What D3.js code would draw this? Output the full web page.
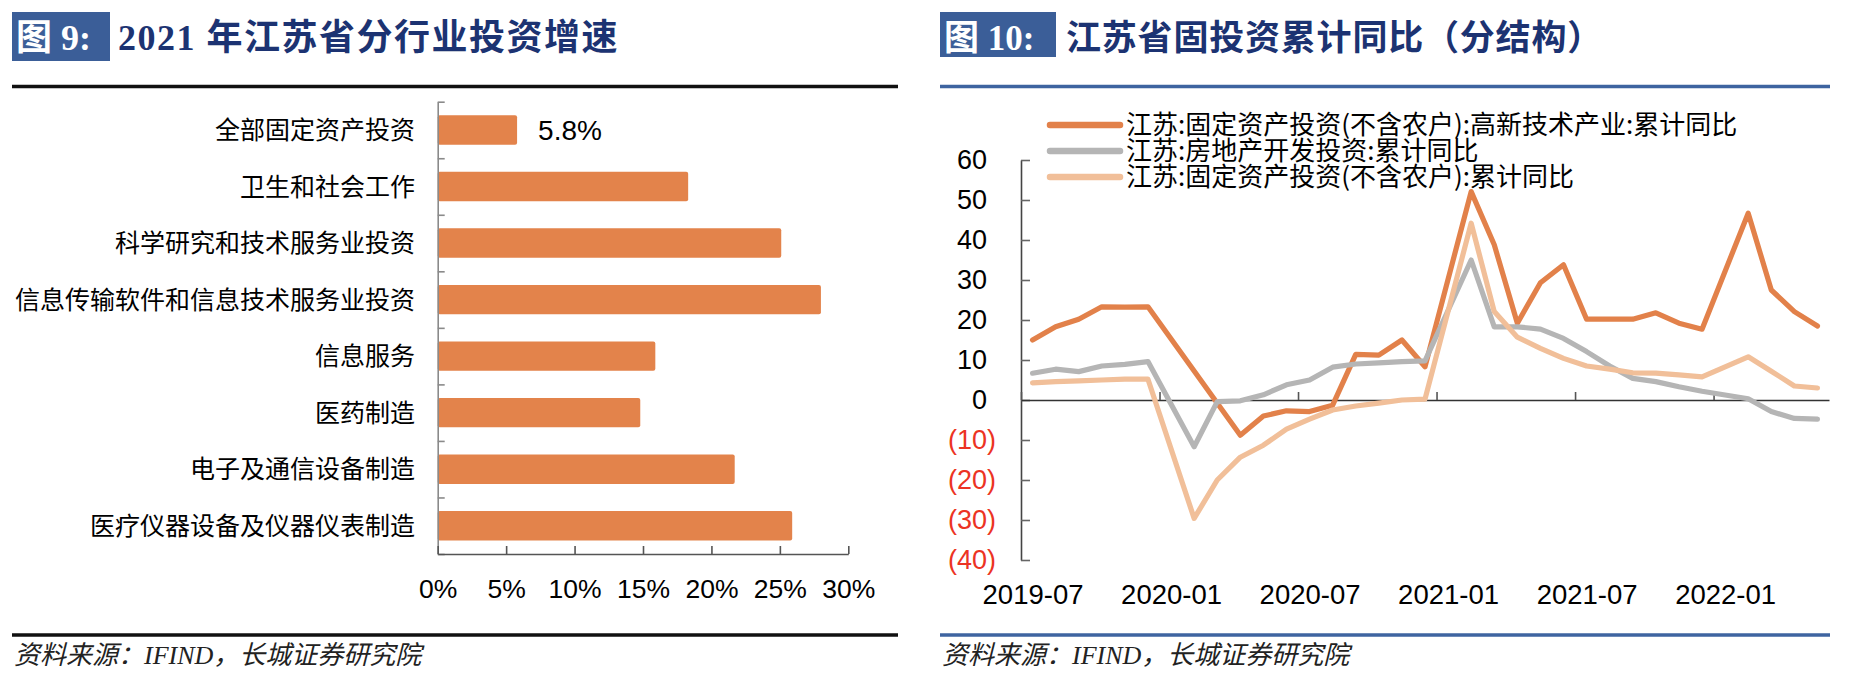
<!DOCTYPE html>
<html>
<head>
<meta charset="utf-8">
<script src="https://cdn.jsdelivr.net/npm/d3@7"></script>
<style>
  html, body { margin: 0; padding: 0; background: #ffffff; }
  svg { display: block; }
</style>
</head>
<body>
<svg id="chart" width="1858" height="694"></svg>
<script>
// ---------------- DATA ----------------
// Figure 9: 2021 investment growth by industry (%)
const barCategories = [
  "全部固定资产投资",
  "卫生和社会工作",
  "科学研究和技术服务业投资",
  "信息传输软件和信息技术服务业投资",
  "信息服务",
  "医药制造",
  "电子及通信设备制造",
  "医疗仪器设备及仪器仪表制造"
];
const barValues = [5.8, 18.3, 25.1, 28.0, 15.9, 14.8, 21.7, 25.9];
const barLabelIndex = 0;            // only the first bar carries a data label
const barTicks = [0, 5, 10, 15, 20, 25, 30];

// Figure 10: Jiangsu fixed-asset investment, cumulative YoY (%)
const months = [
  "2019-07","2019-08","2019-09","2019-10","2019-11","2019-12",
  "2020-01","2020-02","2020-03","2020-04","2020-05","2020-06",
  "2020-07","2020-08","2020-09","2020-10","2020-11","2020-12",
  "2021-01","2021-02","2021-03","2021-04","2021-05","2021-06",
  "2021-07","2021-08","2021-09","2021-10","2021-11","2021-12",
  "2022-01","2022-02","2022-03","2022-04","2022-05"
];
const hiTech = [
  15.0, 18.3, 20.2, 23.3, 23.2, 23.3,
  null, null, null, -8.8, -4.0, -2.7,
  -2.9, -1.3, 11.4, 11.2, 15.0, 8.3,
  null, 52.1, 38.8, 19.2, 29.3, 33.8,
  20.2, 20.2, 20.2, 21.8, 19.2, 17.7,
  null, 46.7, 27.5, 22.1, 18.5
];
const realEstate = [
  6.7, 7.7, 7.1, 8.5, 8.9, 9.6,
  null, -11.7, -0.4, -0.2, 1.3, 3.8,
  5.0, 8.2, 9.0, 9.3, 9.6, 9.8,
  null, 35.0, 18.3, 18.3, 17.7, 15.4,
  12.1, 8.5, 5.4, 4.6, 3.3, 2.2,
  null, 0.3, -2.9, -4.6, -4.8
];
const fixedAsset = [
  4.3, 4.6, 4.8, 5.0, 5.2, 5.2,
  null, -29.6, -20.0, -14.3, -11.3, -7.3,
  -4.8, -2.5, -1.5, -0.8, 0.0, 0.2,
  null, 44.2, 22.1, 15.7, 12.9, 10.4,
  8.5, 7.7, 6.8, 6.7, 6.3, 5.8,
  null, 10.8, 7.2, 3.5, 3.0
];
const seriesNames = [
  "江苏:固定资产投资(不含农户):高新技术产业:累计同比",
  "江苏:房地产开发投资:累计同比",
  "江苏:固定资产投资(不含农户):累计同比"
];
const seriesColors = ["#E2814A", "#B5B5B5", "#F1BF99"];
const xTickLabels = ["2019-07", "2020-01", "2020-07", "2021-01", "2021-07", "2022-01"];
const yTicks = [60, 50, 40, 30, 20, 10, 0, -10, -20, -30, -40];

// ---------------- DRAWING ----------------
const svg = d3.select("#chart");
const LATIN = "'Liberation Sans', Arial, 'Noto Sans CJK SC', sans-serif";
const CJK = "'Noto Sans CJK SC', 'Liberation Sans', sans-serif";
const SERIF = "'Liberation Serif', 'Times New Roman', 'Noto Sans CJK SC', serif";
const BOX_BLUE = "#3B5E98";

function header(g, x0, x1, boxW, boxH, num, title, fontSize, spacing, lineColor, titleX) {
  g.append("rect").attr("x", x0).attr("y", 12).attr("width", boxW).attr("height", boxH)
    .attr("fill", BOX_BLUE);
  g.append("text").attr("x", x0 + 4).attr("y", 50)
    .attr("font-family", SERIF).attr("font-weight", "bold").attr("font-size", fontSize)
    .attr("fill", "#ffffff").text(num);
  g.append("text").attr("x", titleX).attr("y", 50)
    .attr("font-family", SERIF).attr("font-weight", "bold").attr("font-size", fontSize)
    .attr("letter-spacing", spacing)
    .attr("fill", "#1C3372").text(title);
  g.append("line").attr("x1", x0).attr("x2", x1).attr("y1", 86.5).attr("y2", 86.5)
    .attr("stroke", lineColor).attr("stroke-width", 3.5);
  g.append("line").attr("x1", x0).attr("x2", x1).attr("y1", 635).attr("y2", 635)
    .attr("stroke", lineColor).attr("stroke-width", 3.5);
  g.append("text").attr("x", x0 + 2).attr("y", 664)
    .attr("font-family", SERIF).attr("font-style", "italic").attr("font-size", 26)
    .attr("fill", "#222").text("资料来源：IFIND，长城证券研究院");
}

// ---------- Left panel ----------
const left = svg.append("g");
header(left, 12, 898, 98, 49, "图 9:", "2021 年江苏省分行业投资增速", 36, 1.5, "#111111", 118);

const xb = d3.scaleLinear().domain([0, 30]).range([437.7, 848.3]);
const yb = d3.scaleBand().domain(barCategories).range([101.7, 554])
  .paddingInner(0.48).paddingOuter(0.24);

left.append("g").selectAll("rect").data(barCategories).join("rect")
  .attr("x", xb(0))
  .attr("y", d => yb(d))
  .attr("width", (d, i) => xb(barValues[i]) - xb(0))
  .attr("height", yb.bandwidth())
  .attr("rx", 2)
  .attr("fill", "#E3834B");

left.append("text")
  .attr("x", xb(barValues[barLabelIndex]) + 21)
  .attr("y", yb(barCategories[barLabelIndex]) + yb.bandwidth() / 2)
  .attr("dy", "0.36em")
  .attr("font-family", LATIN).attr("font-size", 28).attr("fill", "#000")
  .text(barValues[barLabelIndex].toFixed(1) + "%");

left.append("g").selectAll("text").data(barCategories).join("text")
  .attr("x", 415)
  .attr("y", d => yb(d) + yb.bandwidth() / 2)
  .attr("dy", "0.36em")
  .attr("text-anchor", "end")
  .attr("font-family", CJK).attr("font-size", 25).attr("fill", "#000")
  .text(d => d);

// category boundary axis
const yBound = d3.scaleLinear().domain([0, barCategories.length]).range([101.7, 554]);
const yAxisL = left.append("g").attr("transform", `translate(${xb(0)},0)`)
  .call(d3.axisRight(yBound).ticks(barCategories.length).tickSize(7).tickSizeOuter(0).tickFormat(""));
yAxisL.select(".domain").attr("stroke", "#8a8a8a").attr("stroke-width", 1.6);
yAxisL.selectAll(".tick line").attr("stroke", "#8a8a8a").attr("stroke-width", 1.6);

const xAxisL = left.append("g").attr("transform", "translate(0,554)")
  .call(d3.axisBottom(xb).tickValues(barTicks).tickSize(-8).tickSizeOuter(0)
    .tickPadding(25).tickFormat(d => d + "%"));
xAxisL.select(".domain").attr("stroke", "#555").attr("stroke-width", 1.6);
xAxisL.selectAll(".tick line").attr("stroke", "#555").attr("stroke-width", 1.6);
xAxisL.selectAll("text").attr("font-family", LATIN).attr("font-size", 26.5).attr("fill", "#000");

// ---------- Right panel ----------
const right = svg.append("g");
header(right, 940, 1830, 116, 45, "图 10:", "江苏省固投资累计同比（分结构）", 35, 0.8, "#3E64A0", 1066);

const xr = d3.scaleLinear().domain([-0.5, months.length - 0.5]).range([1021, 1829]);
const yr = d3.scaleLinear().domain([-40, 60]).range([560, 160]);

const yAxisR = right.append("g").attr("transform", "translate(1021,0)")
  .call(d3.axisLeft(yr).tickValues(yTicks).tickSize(-9).tickSizeOuter(0).tickPadding(25)
    .tickFormat(d => d < 0 ? "(" + (-d) + ")" : String(d)));
yAxisR.select(".domain").attr("stroke", "#444").attr("stroke-width", 1.6);
yAxisR.selectAll(".tick line").attr("stroke", "#666").attr("stroke-width", 1.6);
yAxisR.selectAll("text")
  .attr("font-family", LATIN).attr("font-size", 27)
  .attr("fill", d => d < 0 ? "#EC3323" : "#000")
  .attr("dx", d => d < 0 ? 0 : -9);

// category-boundary ticks on the zero line
const boundaryTicks = xTickLabels.map(l => months.indexOf(l) - 0.5);
const xAxisR = right.append("g").attr("transform", `translate(0,${yr(0)})`)
  .call(d3.axisBottom(xr).tickValues(boundaryTicks).tickSize(-8).tickSizeOuter(0).tickFormat(""));
xAxisR.select(".domain").attr("stroke", "#333").attr("stroke-width", 1.6);
xAxisR.selectAll(".tick line").attr("stroke", "#555").attr("stroke-width", 1.6);

// month labels under the plot
const labelAxis = right.append("g").attr("transform", `translate(0,${yr(-40)})`)
  .call(d3.axisBottom(xr).tickValues(xTickLabels.map(l => months.indexOf(l)))
    .tickSize(0).tickPadding(24).tickFormat(i => months[i]));
labelAxis.select(".domain").remove();
labelAxis.selectAll("text").attr("font-family", LATIN).attr("font-size", 27.5).attr("fill", "#000");

// lines
const lineGen = d3.line().x(p => xr(p.i)).y(p => yr(p.v)).curve(d3.curveLinear);
const allSeries = [hiTech, realEstate, fixedAsset];
allSeries.forEach((s, k) => {
  const pts = s.map((v, i) => ({ i, v })).filter(p => p.v !== null);
  right.append("path").datum(pts)
    .attr("d", lineGen)
    .attr("fill", "none")
    .attr("stroke", seriesColors[k])
    .attr("stroke-width", 5.2)
    .attr("stroke-linejoin", "round")
    .attr("stroke-linecap", "round");
});

// legend
const legend = right.append("g");
seriesNames.forEach((name, k) => {
  const cy = 125 + k * 26;
  legend.append("line").attr("x1", 1050).attr("x2", 1120).attr("y1", cy).attr("y2", cy)
    .attr("stroke", seriesColors[k]).attr("stroke-width", 6.5).attr("stroke-linecap", "round");
  legend.append("text").attr("x", 1126).attr("y", cy).attr("dy", "0.36em")
    .attr("font-family", CJK).attr("font-size", 26).attr("fill", "#000").text(name);
});
</script>
</body>
</html>
